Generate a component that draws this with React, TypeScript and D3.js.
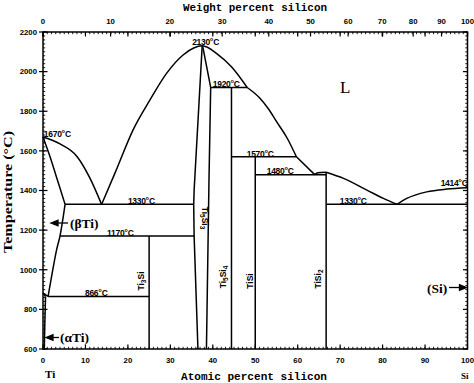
import React from 'react';
import * as d3 from 'd3';

type P = [number, number];

// axis ticks
const atomicTicks = [0, 10, 20, 30, 40, 50, 60, 70, 80, 90, 100];
const weightTicks = [0, 10, 20, 30, 40, 50, 60, 70, 80, 90, 100];
const tempTicks = [600, 800, 1000, 1200, 1400, 1600, 1800, 2000, 2200];

// phase boundaries (atomic % Si, temperature °C)
const liquidusTi: P[] = [[0, 1670], [4, 1635], [8, 1572], [11, 1465], [13.8, 1330]];
const liquidusDome: P[] = [[13.8, 1330], [17, 1490], [21.2, 1705], [25.2, 1857], [29.1, 1991], [33, 2084], [35.5, 2119], [37.5, 2130], [41, 2090], [44.5, 2022], [48.1, 1920]];
const liquidusMid: P[] = [[48.1, 1920], [51, 1868], [53, 1815], [55.1, 1745], [57.5, 1665], [59.7, 1570]];
const liquidusEut: P[] = [[59.7, 1570], [64, 1480]];
const liquidusTiSi2Top: P[] = [[64, 1480], [64.8, 1490], [66.7, 1492]];
const liquidusSiLeft: P[] = [[66.7, 1492], [70.8, 1461], [76.3, 1402], [80.2, 1360], [83.4, 1330]];
const liquidusSiRight: P[] = [[83.4, 1330], [85.7, 1360], [90.4, 1393], [95.1, 1407], [100, 1414]];
const solidusBeta: P[] = [[0, 1670], [1.5, 1580], [3, 1480], [5.2, 1330]];
const solvusBeta: P[] = [[5.2, 1330], [4.0, 1170], [3.2, 1100], [1.2, 865]];
const transusBeta: P[] = [[0, 882], [1.2, 865]];
const transusAlpha: P[] = [[0, 882], [0.6, 865]];
const solvusAlpha: P[] = [[0.6, 865], [0.4, 700], [0.3, 600]];
const ti5si3Left: P[] = [[37.5, 2130], [35.6, 1400], [35.5, 1330], [35.6, 1170], [36.5, 600]];
const ti5si3Right: P[] = [[37.6, 2130], [39.5, 1920], [39.1, 1450], [38.5, 600]];

// invariant reactions: [from at%, to at%, temperature]
const isotherms: [number, number, number][] = [
  [39.5, 48.1, 1920],
  [44.4, 59.7, 1570],
  [50, 66.7, 1480],
  [5.2, 35.5, 1330],
  [66.7, 100, 1330],
  [4.0, 35.6, 1170],
  [1.2, 25, 865],
];

// line compounds: [at%, top temperature]
const compounds: [number, number][] = [
  [25, 1170],
  [44.4, 1920],
  [50, 1570],
  [66.7, 1492],
];

const MTi = 47.867;
const MSi = 28.0855;
const wtToAt = (w: number) => {
  const a = w / MSi;
  const b = (100 - w) / MTi;
  return (a / (a + b)) * 100;
};

const x = d3.scaleLinear().domain([0, 100]).range([43, 467.5]);
const y = d3.scaleLinear().domain([600, 2200]).range([349, 32]);

const smooth = d3.line<P>().x(d => x(d[0])).y(d => y(d[1])).curve(d3.curveMonotoneX);
const straight = d3.line<P>().x(d => x(d[0])).y(d => y(d[1]));
const cat = d3.line<P>().x(d => x(d[0])).y(d => y(d[1])).curve(d3.curveCatmullRom.alpha(0.5));

const tickFont = 'Liberation Sans, Arial, sans-serif';
const labFont = 'Liberation Sans, Arial, sans-serif';
const serif = 'Liberation Serif, Times New Roman, serif';
const mono = 'Liberation Mono, Courier New, monospace';

function TempLabel({ v, px, py, anchor = 'start' }: { v: number; px: number; py: number; anchor?: string }) {
  return (
    <text x={px} y={py} fontFamily={labFont} fontWeight="bold" fontSize={8.5} textAnchor={anchor} letterSpacing={-0.3}>
      {v}
      <tspan fontSize={9} dy={-1}>°</tspan>
      <tspan dy={1}>C</tspan>
    </text>
  );
}

function Compound({ cx, cy, rot, parts }: { cx: number; cy: number; rot: number; parts: [string, string][] }) {
  const nodes: React.ReactNode[] = [];
  let shifted = false;
  parts.forEach(([t, sub], i) => {
    nodes.push(<tspan key={'t' + i} dy={shifted ? -2 : 0}>{t}</tspan>);
    shifted = false;
    if (sub) {
      nodes.push(<tspan key={'s' + i} fontSize={6.5} dy={2}>{sub}</tspan>);
      shifted = true;
    }
  });
  return (
    <text transform={`translate(${cx},${cy}) rotate(${rot})`} textAnchor="middle" dy={3}
      fontFamily={labFont} fontWeight="bold" fontSize={8.5}>
      {nodes}
    </text>
  );
}

export default function App() {
  const minorAt = d3.range(0, 101, 1);
  const minorT = d3.range(600, 2201, 20);
  const x0 = x(0), x1 = x(100), y0 = y(600), y1 = y(2200);
  return (
    <svg width={474} height={383} style={{ position: 'absolute', left: 0, top: 0, background: '#fff' }}>
      <rect x={0} y={0} width={474} height={383} fill="#fff" />
      {/* frame */}
      <rect x={x0} y={y1} width={x1 - x0} height={y0 - y1} fill="none" stroke="#000" strokeWidth={1.5} />

      {/* minor ticks */}
      <g stroke="#000" strokeWidth={0.9}>
        {minorAt.map(a => (
          <React.Fragment key={'ma' + a}>
            <line x1={x(a)} x2={x(a)} y1={y0} y2={y0 - 2.2} />
            <line x1={x(a)} x2={x(a)} y1={y1} y2={y1 + 2.2} />
          </React.Fragment>
        ))}
        {minorT.map(t => (
          <React.Fragment key={'mt' + t}>
            <line x1={x0} x2={x0 + 2.2} y1={y(t)} y2={y(t)} />
            <line x1={x1} x2={x1 - 2.2} y1={y(t)} y2={y(t)} />
          </React.Fragment>
        ))}
      </g>
      {/* major ticks */}
      <g stroke="#000" strokeWidth={1.2}>
        {atomicTicks.map(a => (
          <React.Fragment key={'Ma' + a}>
            <line x1={x(a)} x2={x(a)} y1={y0} y2={y0 - 4.5} />
            <line x1={x(a)} x2={x(a)} y1={y1} y2={y1 + 4.5} />
          </React.Fragment>
        ))}
        {weightTicks.map(w => (
          <line key={'Mw' + w} x1={x(wtToAt(w))} x2={x(wtToAt(w))} y1={y1} y2={y1 + 4.5} />
        ))}
        {tempTicks.map(t => (
          <React.Fragment key={'Mt' + t}>
            <line x1={x0 - 4} x2={x0 + 4.5} y1={y(t)} y2={y(t)} />
            <line x1={x1} x2={x1 - 4.5} y1={y(t)} y2={y(t)} />
          </React.Fragment>
        ))}
      </g>

      {/* tick labels */}
      <g fontFamily={tickFont} fontWeight="bold" fontSize={7.8} fill="#000">
        {atomicTicks.map(a => (
          <text key={'la' + a} x={x(a)} y={363} textAnchor="middle">{a}</text>
        ))}
        {weightTicks.map(w => (
          <text key={'lw' + w} x={x(wtToAt(w))} y={23.5} textAnchor="middle">{w}</text>
        ))}
        {tempTicks.map(t => (
          <text key={'lt' + t} x={37} y={y(t) + 2.8} textAnchor="end">{t}</text>
        ))}
      </g>

      {/* axis titles */}
      <text x={255} y={10.5} textAnchor="middle" fontFamily={mono} fontSize={11.5} fontWeight="bold"
        textLength={144} lengthAdjust="spacingAndGlyphs">Weight percent silicon</text>
      <text x={254} y={380} textAnchor="middle" fontFamily={mono} fontSize={11.5} fontWeight="bold"
        textLength={146} lengthAdjust="spacingAndGlyphs">Atomic percent silicon</text>
      <text transform="translate(11.5,192) rotate(-90)" textAnchor="middle" fontFamily={serif} fontSize={12.5}
        fontWeight="bold" textLength={122} lengthAdjust="spacingAndGlyphs">Temperature (°C)</text>
      <text x={45} y={378} fontFamily={serif} fontWeight="bold" fontSize={11}>Ti</text>
      <text x={461} y={378.5} fontFamily={serif} fontWeight="bold" fontSize={9}>Si</text>

      {/* phase boundaries */}
      <g fill="none" stroke="#000" strokeWidth={1.5} strokeLinejoin="round">
        <path d={smooth(liquidusTi)!} />
        <path d={smooth(liquidusDome)!} />
        <path d={smooth(liquidusMid)!} />
        <path d={straight(liquidusEut)!} />
        <path d={smooth(liquidusTiSi2Top)!} />
        <path d={smooth(liquidusSiLeft)!} />
        <path d={smooth(liquidusSiRight)!} />
        <path d={cat(solidusBeta)!} />
        <path d={cat(solvusBeta)!} />
        <path d={straight(transusBeta)!} />
        <path d={straight(transusAlpha)!} />
        <path d={cat(solvusAlpha)!} />
        <path d={straight(ti5si3Left)!} />
        <path d={straight(ti5si3Right)!} />
        {isotherms.map(([a, b, t], i) => (
          <line key={'iso' + i} x1={x(a)} x2={x(b)} y1={y(t)} y2={y(t)} />
        ))}
        {compounds.map(([a, t], i) => (
          <line key={'cmp' + i} x1={x(a)} x2={x(a)} y1={y(t)} y2={y(600)} />
        ))}
      </g>

      {/* temperature labels */}
      <TempLabel v={1670} px={x(0.2)} py={y(1670)} />
      <TempLabel v={2130} px={x(38.3)} py={y(2130) - 1} anchor="middle" />
      <TempLabel v={1920} px={x(40)} py={y(1920)} />
      <TempLabel v={1330} px={x(20)} py={y(1330)} />
      <TempLabel v={1170} px={x(15.1)} py={y(1170)} />
      <TempLabel v={866} px={x(9.9)} py={y(865)} />
      <TempLabel v={1570} px={x(48)} py={y(1570)} />
      <TempLabel v={1480} px={x(52.7)} py={y(1480) - 0.5} />
      <TempLabel v={1330} px={x(69.9)} py={y(1330)} />
      <TempLabel v={1414} px={x(100)} py={y(1414) - 2} anchor="end" />

      {/* compound labels */}
      <Compound cx={202} cy={218} rot={90} parts={[['Ti', '5'], ['Si', '3']]} />
      <Compound cx={144} cy={281} rot={-90} parts={[['Ti', '3'], ['Si', '']]} />
      <Compound cx={226} cy={277} rot={-90} parts={[['Ti', '5'], ['Si', '4']]} />
      <Compound cx={252.5} cy={281} rot={-90} parts={[['TiSi', '']]} />
      <Compound cx={321} cy={279} rot={-90} parts={[['TiSi', '2']]} />

      {/* phase labels */}
      <text x={340} y={93} fontFamily={serif} fontSize={17}>L</text>
      <text x={70} y={227.5} fontFamily={serif} fontSize={13.5} fontWeight="bold">(βTi)</text>
      <text x={60} y={342} fontFamily={serif} fontSize={13.5} fontWeight="bold">(αTi)</text>
      <text x={427} y={292.5} fontFamily={serif} fontSize={13.5} fontWeight="bold">(Si)</text>

      {/* arrows */}
      <g stroke="#000" strokeWidth={1.3} fill="#000">
        <line x1={68} x2={54} y1={223} y2={223} />
        <path d="M51,223 L58,220.3 L58,225.7 Z" />
        <line x1={59} x2={49} y1={337.5} y2={337.5} />
        <path d="M46,337.5 L53,334.8 L53,340.2 Z" />
        <line x1={449} x2={462} y1={287.5} y2={287.5} />
        <path d="M466.5,287.5 L459.5,284.8 L459.5,290.2 Z" />
      </g>
    </svg>
  );
}
